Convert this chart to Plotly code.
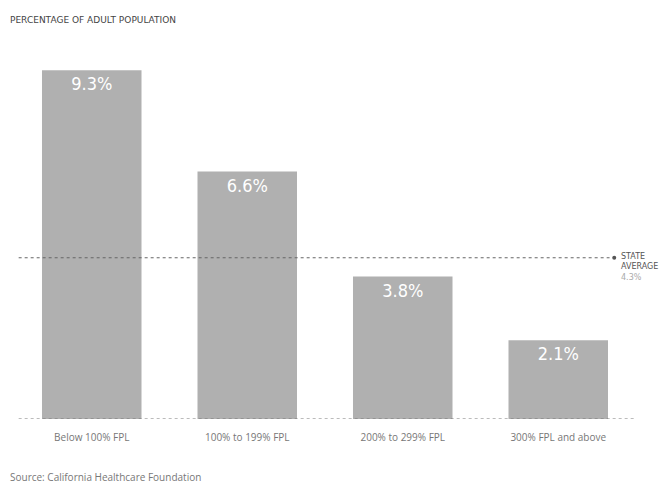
import plotly.graph_objects as go

categories = ["Below 100% FPL", "100% to 199% FPL", "200% to 299% FPL", "300% FPL and above"]
values = [9.3, 6.6, 3.8, 2.1]
state_average = 4.3
title_text = "PERCENTAGE OF ADULT POPULATION"
source_text = "Source: California Healthcare Foundation"

xpos = list(range(len(categories)))

fig = go.Figure()
fig.add_trace(go.Bar(
    x=xpos, y=values,
    width=0.64,
    marker=dict(color="#b0b0b0", line=dict(width=0)),
    text=[f"{v:.1f}%" for v in values],
    textposition="inside",
    insidetextanchor="end",
    textfont=dict(color="white", size=18, family="DejaVu Sans Condensed, sans-serif"),
    constraintext="none",
    hoverinfo="skip",
))

# state average line
fig.add_shape(type="line", xref="x", yref="y", x0=-0.47, x1=3.33, y0=state_average, y1=state_average,
              line=dict(color="#666666", width=1, dash="dot"))
fig.add_trace(go.Scatter(x=[3.36], y=[state_average], mode="markers",
                         marker=dict(color="#555555", size=4), hoverinfo="skip", showlegend=False))
fig.add_annotation(x=3.39, y=state_average, xref="x", yref="y", xanchor="left", yanchor="top",
                   yshift=8, align="left", showarrow=False,
                   text="STATE<br>AVERAGE<br><span style='color:#aaaaaa'>4.3%</span>",
                   font=dict(size=8, color="#555555", family="DejaVu Sans, sans-serif"))

# baseline
fig.add_shape(type="line", xref="x", yref="y", x0=-0.47, x1=3.5, y0=0, y1=0,
              line=dict(color="#777777", width=1, dash="dot"))

fig.add_annotation(x=0, y=1, xref="paper", yref="paper", xanchor="left", yanchor="bottom",
                   text=title_text, showarrow=False, xshift=-6, yshift=17,
                   font=dict(size=9, color="#444444", family="DejaVu Sans"))
fig.add_annotation(x=0, y=0, xref="paper", yref="paper", xanchor="left", yanchor="top",
                   text=source_text, showarrow=False, xshift=-6, yshift=-49,
                   font=dict(size=10, color="#777777", family="Open Sans, sans-serif"))

fig.update_layout(
    width=660, height=477,
    margin=dict(l=6, r=32, t=36, b=66),
    paper_bgcolor="white", plot_bgcolor="white",
    showlegend=False,
    xaxis=dict(range=[-0.5, 3.5], tickvals=xpos, ticktext=categories, showgrid=False,
               zeroline=False, showline=False, ticks="outside", ticklen=9, tickcolor="rgba(0,0,0,0)",
               tickfont=dict(size=10, color="#777777", family="Open Sans, sans-serif")),
    yaxis=dict(range=[0, 10], visible=False),
)
fig.write_html("out.html")
